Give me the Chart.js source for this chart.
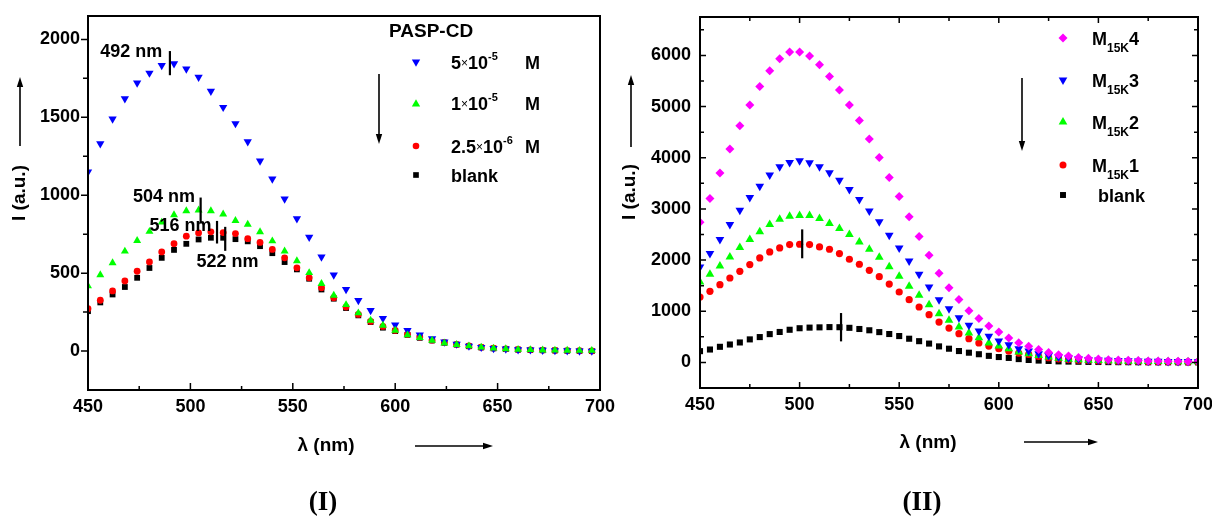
<!DOCTYPE html>
<html>
<head>
<meta charset="utf-8">
<script src="https://cdn.jsdelivr.net/npm/chart.js@4.4.1/dist/chart.umd.min.js"></script>
<style>
  html, body { margin: 0; padding: 0; background: #fff; }
  #wrap { position: relative; width: 1212px; height: 516px; overflow: hidden; }
  canvas { position: absolute; top: 0; }
  #panel1 { left: 0; }
  #panel2 { left: 606px; }
</style>
</head>
<body>
<div id="wrap">
  <canvas id="panel1" width="640" height="516"></canvas>
  <canvas id="panel2" width="606" height="516"></canvas>
</div>
<script>
// ---- panel (I): PASP-CD concentration series, 6 nm steps ----
const wavelengthsI = [450, 456, 462, 468, 474, 480, 486, 492, 498, 504, 510, 516, 522, 528, 534, 540, 546, 552, 558, 564, 570,
  576, 582, 588, 594, 600, 606, 612, 618, 624, 630, 636, 642, 648, 654, 660, 666, 672, 678, 684, 690, 696];
const conc5e5 = [1149, 1331, 1489, 1620, 1720, 1784, 1833, 1844, 1810, 1758, 1667, 1564, 1460, 1344, 1220, 1104, 976, 850, 731, 604, 489,
  395, 325, 261, 209, 167, 132, 103, 79, 58, 45, 32, 24, 17, 13, 9, 8, 5, 3, 2, 1, 0];
const conc1e5 = [417, 489, 566, 640, 708, 767, 826, 874, 899, 904, 899, 878, 837, 813, 765, 706, 641, 578, 502, 432, 357,
  297, 244, 197, 165, 132, 103, 85, 68, 51, 41, 32, 24, 18, 14, 10, 8, 6, 5, 4, 3, 3];
const conc25e6 = [272, 326, 386, 450, 512, 572, 636, 689, 737, 758, 765, 760, 754, 721, 697, 652, 598, 534, 470, 406, 342,
  282, 235, 190, 158, 132, 107, 90, 70, 55, 43, 33, 25, 19, 14, 10, 8, 6, 4, 3, 2, 1];
const blankI = [256, 312, 363, 411, 470, 533, 598, 649, 688, 716, 727, 727, 718, 704, 673, 628, 571, 524, 464, 395, 336,
  276, 229, 186, 150, 128, 104, 85, 68, 53, 41, 31, 23, 17, 13, 9, 7, 5, 4, 2, 1, 0];
const xTicks = [450, 500, 550, 600, 650, 700];
const yTicksI = [0, 500, 1000, 1500, 2000];
// peak marks: wavelength label, x position, vertical extent
const peaksI = [
  { label: "492 nm", x: 490, from: 1770, to: 1925, tx: 456, ty: 1917 },
  { label: "504 nm", x: 505, from: 818, to: 985, tx: 472, ty: 989 },
  { label: "516 nm", x: 513, from: 690, to: 835, tx: 480, ty: 801 },
  { label: "522 nm", x: 517, from: 643, to: 797, tx: 503, ty: 570 }
];

// ---- panel (II): M15K samples, 5 nm steps ----
const wavelengthsII = [450, 455, 460, 465, 470, 475, 480, 485, 490, 495, 500, 505, 510, 515, 520, 525, 530, 535, 540, 545, 550,
  555, 560, 565, 570, 575, 580, 585, 590, 595, 600, 605, 610, 615, 620, 625, 630, 635, 640, 645, 650,
  655, 660, 665, 670, 675, 680, 685, 690, 695, 700];
const m15k4 = [2740, 3205, 3700, 4170, 4625, 5030, 5394, 5700, 5935, 6065, 6065, 5987, 5817, 5589, 5322, 5030, 4725, 4364, 4005, 3613, 3240,
  2848, 2460, 2095, 1740, 1460, 1228, 1010, 858, 710, 592, 478, 385, 314, 250, 196, 150, 125, 98, 80, 65,
  52, 46, 40, 35, 30, 28, 25, 22, 20, 18];
const m15k3 = [1865, 2127, 2401, 2694, 2975, 3223, 3444, 3660, 3822, 3908, 3940, 3901, 3822, 3705, 3562, 3379, 3184, 2961, 2750, 2486, 2238,
  1983, 1722, 1474, 1226, 1050, 874, 724, 613, 509, 418, 346, 268, 222, 170, 137, 105, 85, 70, 58, 48,
  42, 36, 32, 28, 25, 22, 20, 18, 16, 15];
const m15k2 = [1572, 1722, 1885, 2061, 2244, 2401, 2551, 2694, 2799, 2857, 2870, 2870, 2812, 2714, 2616, 2499, 2355, 2211, 2055, 1870, 1683,
  1487, 1311, 1129, 952, 822, 691, 574, 483, 379, 320, 268, 203, 170, 137, 105, 80, 62, 50, 42, 36,
  32, 28, 25, 22, 20, 18, 16, 15, 14, 13];
const m15k1 = [1278, 1389, 1520, 1650, 1781, 1912, 2041, 2159, 2237, 2303, 2309, 2303, 2256, 2211, 2127, 2016, 1918, 1800, 1676, 1530, 1376,
  1226, 1083, 933, 789, 672, 561, 463, 379, 320, 268, 222, 183, 157, 118, 92, 70, 55, 44, 36, 30,
  26, 22, 19, 17, 15, 13, 12, 11, 10, 9];
const blankII = [220, 252, 305, 350, 390, 450, 495, 553, 595, 638, 668, 680, 685, 690, 688, 676, 653, 628, 592, 555, 515,
  463, 415, 368, 313, 268, 222, 190, 160, 128, 105, 88, 65, 48, 36, 28, 20, 16, 13, 10, 8,
  6, 5, 4, 3, 3, 2, 2, 2, 1, 1];
const yTicksII = [0, 1000, 2000, 3000, 4000, 5000, 6000];
const peaksII = [
  { x: 501.3, from: 2035, to: 2600 },
  { x: 520.8, from: 411, to: 965 }
];

const SANS = '"Liberation Sans", Arial, sans-serif';
const SERIF = '"Liberation Serif", "Times New Roman", serif';
Chart.defaults.font.family = SANS;
Chart.defaults.font.weight = "bold";
Chart.defaults.font.size = 18;
Chart.defaults.color = "#000";

const toPoints = (xs, ys) => xs.map((x, i) => ({ x, y: ys[i] }));

function marker(ctx, shape, x, y, r, color) {
  ctx.save();
  ctx.fillStyle = color;
  ctx.beginPath();
  if (shape === "circle") {
    ctx.arc(x, y, r, 0, Math.PI * 2);
  } else if (shape === "rect") {
    const s = r * Math.SQRT1_2;
    ctx.rect(x - s, y - s, 2 * s, 2 * s);
  } else if (shape === "rectRot") {
    ctx.moveTo(x, y - r); ctx.lineTo(x + r, y); ctx.lineTo(x, y + r); ctx.lineTo(x - r, y);
  } else {
    const d = shape === "down" ? -1 : 1;
    ctx.moveTo(x, y - d * r);
    ctx.lineTo(x + r * 0.866, y + d * r / 2);
    ctx.lineTo(x - r * 0.866, y + d * r / 2);
  }
  ctx.closePath();
  ctx.fill();
  ctx.restore();
}

function arrow(ctx, x0, y0, x1, y1) {
  const ang = Math.atan2(y1 - y0, x1 - x0);
  const L = 10, W = 3.2;
  ctx.save();
  ctx.strokeStyle = "#000"; ctx.fillStyle = "#000"; ctx.lineWidth = 1.6;
  ctx.beginPath();
  ctx.moveTo(x0, y0);
  ctx.lineTo(x1 - Math.cos(ang) * L * 0.8, y1 - Math.sin(ang) * L * 0.8);
  ctx.stroke();
  ctx.beginPath();
  ctx.moveTo(x1, y1);
  ctx.lineTo(x1 - Math.cos(ang) * L - Math.sin(ang) * W, y1 - Math.sin(ang) * L + Math.cos(ang) * W);
  ctx.lineTo(x1 - Math.cos(ang) * L + Math.sin(ang) * W, y1 - Math.sin(ang) * L - Math.cos(ang) * W);
  ctx.closePath();
  ctx.fill();
  ctx.restore();
}

// runs of text with their own size / weight / vertical shift
function richText(ctx, x, y, parts) {
  ctx.save();
  ctx.textBaseline = "alphabetic";
  ctx.textAlign = "left";
  ctx.fillStyle = "#000";
  for (const p of parts) {
    if (p.at !== undefined) x = p.at;
    ctx.font = `${p.w || "bold"} ${p.s || 18}px ${SANS}`;
    ctx.fillText(p.t, x, y + (p.dy || 0));
    x += ctx.measureText(p.t).width;
  }
  ctx.restore();
}

function ticks(chart, axis, values, len, side, inward) {
  const ctx = chart.ctx, a = chart.chartArea, s = chart.scales[axis];
  ctx.save();
  ctx.strokeStyle = "#000";
  ctx.lineWidth = 1.5;
  ctx.beginPath();
  for (const v of values) {
    const p = s.getPixelForValue(v);
    const k = inward ? 1 : -1;
    if (side === "bottom") { ctx.moveTo(p, a.bottom); ctx.lineTo(p, a.bottom - k * len); }
    if (side === "top") { ctx.moveTo(p, a.top); ctx.lineTo(p, a.top + k * len); }
    if (side === "left") { ctx.moveTo(a.left, p); ctx.lineTo(a.left + k * len, p); }
    if (side === "right") { ctx.moveTo(a.right, p); ctx.lineTo(a.right - k * len, p); }
  }
  ctx.stroke();
  ctx.restore();
}

function frame(chart) {
  const ctx = chart.ctx, a = chart.chartArea;
  ctx.save();
  ctx.strokeStyle = "#000";
  ctx.lineWidth = 2;
  ctx.strokeRect(a.left, a.top, a.right - a.left, a.bottom - a.top);
  ctx.restore();
}

function peakBars(chart, list) {
  const ctx = chart.ctx, xs = chart.scales.x, ys = chart.scales.y;
  ctx.save();
  ctx.strokeStyle = "#000";
  ctx.lineWidth = 2.2;
  for (const p of list) {
    const x = xs.getPixelForValue(p.x);
    ctx.beginPath();
    ctx.moveTo(x, ys.getPixelForValue(p.from));
    ctx.lineTo(x, ys.getPixelForValue(p.to));
    ctx.stroke();
    if (p.label) {
      ctx.font = `bold 18px ${SANS}`;
      ctx.fillStyle = "#000";
      ctx.textAlign = "left";
      ctx.textBaseline = "middle";
      ctx.fillText(p.label, xs.getPixelForValue(p.tx), ys.getPixelForValue(p.ty));
    }
  }
  ctx.restore();
}

function labels(ctx, yTitleX, yTitleY, xTitleX, xTitleY, caption, capX) {
  ctx.save();
  ctx.fillStyle = "#000";
  ctx.font = `bold 19px ${SANS}`;
  ctx.textAlign = "center";
  ctx.textBaseline = "middle";
  ctx.fillText("\u03bb (nm)", xTitleX, xTitleY);
  ctx.translate(yTitleX, yTitleY);
  ctx.rotate(-Math.PI / 2);
  ctx.fillText("I (a.u.)", 0, 0);
  ctx.restore();
  ctx.save();
  ctx.fillStyle = "#000";
  ctx.font = `bold 27px ${SERIF}`;
  ctx.textAlign = "center";
  ctx.textBaseline = "middle";
  ctx.fillText(caption, capX, 503);
  ctx.restore();
}

function scalesFor(yMin, yMax, yTickList, yWidth, xHeight, yPad) {
  return {
    x: {
      type: "linear", min: 450, max: 700,
      afterBuildTicks: s => { s.ticks = xTicks.map(v => ({ value: v })); },
      afterFit: s => { s.height = xHeight; s.paddingLeft = 0; s.paddingRight = 0; },
      grid: { display: false, drawTicks: false },
      border: { display: false },
      ticks: { padding: 6, maxRotation: 0, callback: v => String(v) }
    },
    y: {
      type: "linear", min: yMin, max: yMax,
      afterBuildTicks: s => { s.ticks = yTickList.map(v => ({ value: v })); },
      afterFit: s => { s.width = yWidth; s.paddingTop = 0; s.paddingBottom = 0; },
      grid: { display: false, drawTicks: false },
      border: { display: false },
      ticks: { padding: yPad, callback: v => String(v) }
    }
  };
}

const common = {
  responsive: false,
  animation: false,
  events: [],
  plugins: { legend: { display: false }, tooltip: { enabled: false } }
};

// ---------------- panel I ----------------
const panelOneDeco = {
  id: "panelOneDeco",
  afterDraw(chart) {
    const ctx = chart.ctx;
    frame(chart);
    ticks(chart, "y", yTicksI, 7, "left", false);
    ticks(chart, "y", [250, 750, 1250, 1750], 5, "left", false);
    ticks(chart, "x", [500, 550, 600, 650], 7, "bottom", true);
    ticks(chart, "x", [475, 525, 575, 625, 675], 4, "bottom", true);
    peakBars(chart, peaksI);
    labels(ctx, 20, 193, 326, 446, "(I)", 323);
    arrow(ctx, 20, 146, 20, 77);
    arrow(ctx, 415, 446, 493, 446);
    arrow(ctx, 379, 74, 379, 144);
    // legend
    richText(ctx, 389, 37, [{ t: "PASP-CD", s: 19 }]);
    marker(ctx, "down", 416, 62, 4.8, "#0000ff");
    richText(ctx, 451, 69, [{ t: "5" }, { t: "\u00d7", s: 12, w: "normal", dy: -2 }, { t: "10" }, { t: "-5", s: 11, dy: -9 }, { t: "M", at: 525 }]);
    marker(ctx, "up", 416, 104, 4.8, "#00ff00");
    richText(ctx, 451, 110, [{ t: "1" }, { t: "\u00d7", s: 12, w: "normal", dy: -2 }, { t: "10" }, { t: "-5", s: 11, dy: -9 }, { t: "M", at: 525 }]);
    marker(ctx, "circle", 416, 146, 3.3, "#ff0000");
    richText(ctx, 451, 153, [{ t: "2.5" }, { t: "\u00d7", s: 12, w: "normal", dy: -2 }, { t: "10" }, { t: "-6", s: 11, dy: -9 }, { t: "M", at: 525 }]);
    marker(ctx, "rect", 416, 175, 4, "#000000");
    richText(ctx, 451, 182, [{ t: "blank" }]);
  }
};

new Chart(document.getElementById("panel1"), {
  type: "scatter",
  data: {
    datasets: [
      { label: "1e-5", data: toPoints(wavelengthsI, conc1e5), pointStyle: "triangle", pointRadius: 4.6, backgroundColor: "#00ff00", borderWidth: 0, order: 1 },
      { label: "5e-5", data: toPoints(wavelengthsI, conc5e5), pointStyle: "triangle", rotation: 180, pointRadius: 4.8, backgroundColor: "#0000ff", borderWidth: 0, order: 2 },
      { label: "2.5e-6", data: toPoints(wavelengthsI, conc25e6), pointStyle: "circle", pointRadius: 3.4, backgroundColor: "#ff0000", borderWidth: 0, order: 3 },
      { label: "blank", data: toPoints(wavelengthsI, blankI), pointStyle: "rect", pointRadius: 4.1, backgroundColor: "#000000", borderWidth: 0, order: 4 }
    ]
  },
  options: Object.assign({}, common, {
    layout: { padding: { top: 16, right: 40, left: 0, bottom: 0 } },
    scales: scalesFor(-250, 2150, yTicksI, 88, 126, 8)
  }),
  plugins: [panelOneDeco]
});

// ---------------- panel II ----------------
const panelTwoDeco = {
  id: "panelTwoDeco",
  afterDraw(chart) {
    const ctx = chart.ctx;
    frame(chart);
    const yMaj = [-500, 0, 1000, 2000, 3000, 4000, 5000, 6000];
    const yMin = [500, 1500, 2500, 3500, 4500, 5500, 6500];
    ticks(chart, "y", yMaj, 6, "left", true);
    ticks(chart, "y", yMin, 4, "left", true);
    ticks(chart, "y", yMaj, 6, "right", true);
    ticks(chart, "y", yMin, 4, "right", true);
    ticks(chart, "x", [500, 550, 600, 650], 6, "bottom", true);
    ticks(chart, "x", [475, 525, 575, 625, 675], 4, "bottom", true);
    ticks(chart, "x", [500, 550, 600, 650], 6, "top", true);
    ticks(chart, "x", [475, 525, 575, 625, 675], 4, "top", true);
    peakBars(chart, peaksII);
    labels(ctx, 24, 192, 322, 443, "(II)", 316);
    arrow(ctx, 25, 147, 25, 75);
    arrow(ctx, 418, 442, 492, 442);
    arrow(ctx, 416, 78, 416, 151);
    // legend
    const rows = [
      { shape: "rectRot", color: "#ff00ff", n: "4", y: 45, r: 4.5 },
      { shape: "down", color: "#0000ff", n: "3", y: 87, r: 5 },
      { shape: "up", color: "#00ff00", n: "2", y: 129, r: 5 },
      { shape: "circle", color: "#ff0000", n: "1", y: 172, r: 3.5 }
    ];
    for (const r of rows) {
      marker(ctx, r.shape, 457, r.y - 7, r.r, r.color);
      richText(ctx, 486, r.y, [{ t: "M" }, { t: "15K", s: 12, dy: 7 }, { t: r.n }]);
    }
    marker(ctx, "rect", 457, 195, 4.2, "#000000");
    richText(ctx, 492, 202, [{ t: "blank" }]);
  }
};

new Chart(document.getElementById("panel2"), {
  type: "scatter",
  data: {
    datasets: [
      { label: "M15K4", data: toPoints(wavelengthsII, m15k4), pointStyle: "rectRot", pointRadius: 4.5, backgroundColor: "#ff00ff", borderWidth: 0, order: 1 },
      { label: "M15K3", data: toPoints(wavelengthsII, m15k3), pointStyle: "triangle", rotation: 180, pointRadius: 5, backgroundColor: "#0000ff", borderWidth: 0, order: 2 },
      { label: "M15K2", data: toPoints(wavelengthsII, m15k2), pointStyle: "triangle", pointRadius: 5, backgroundColor: "#00ff00", borderWidth: 0, order: 3 },
      { label: "M15K1", data: toPoints(wavelengthsII, m15k1), pointStyle: "circle", pointRadius: 3.6, backgroundColor: "#ff0000", borderWidth: 0, order: 4 },
      { label: "blank", data: toPoints(wavelengthsII, blankII), pointStyle: "rect", pointRadius: 4.3, backgroundColor: "#000000", borderWidth: 0, order: 5 }
    ]
  },
  options: Object.assign({}, common, {
    layout: { padding: { top: 17, right: 14, left: 0, bottom: 0 } },
    scales: scalesFor(-500, 6750, yTicksII, 94, 128, 9)
  }),
  plugins: [panelTwoDeco]
});
</script>
</body>
</html>
